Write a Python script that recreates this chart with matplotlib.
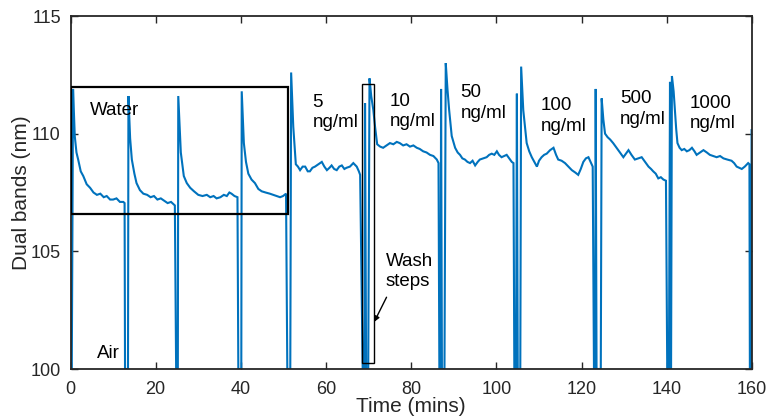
import matplotlib
matplotlib.use("Agg")
import matplotlib.pyplot as plt
from matplotlib.patches import Rectangle

plt.rcParams['font.family'] = ['Liberation Sans', 'DejaVu Sans']

# ---- data ----
time_min = [
    0.3, 0.6, 1.0, 1.4, 1.8, 2.4, 3.0, 3.8, 4.6, 5.4, 6.2, 7.0, 7.8, 8.5, 9.3, 10.0, 10.8, 11.6, 12.4, 12.7,
    12.8, 13.5, 13.6,
    14.0, 14.4, 15.0, 15.5, 16.3, 17.1, 18.0, 18.8, 19.6, 20.4, 21.2, 22.0, 22.8, 23.6, 24.5,
    24.8, 25.2, 25.3,
    25.9, 26.6, 27.3, 28.1, 29.0, 30.0, 31.0, 32.0, 32.8, 33.6, 34.3, 35.2, 36.0, 36.7, 37.3, 37.8, 38.5, 39.2,
    39.4, 40.1, 40.2,
    40.7, 41.2, 41.75, 42.5, 43.3, 44.1, 44.9, 45.8, 46.8, 47.6, 48.4, 49.2, 49.9, 50.6,
    50.9, 51.6, 51.8,
    52.3, 52.9, 53.4, 53.9, 54.5, 55.1, 55.7, 56.2, 56.8, 57.4, 58.2, 59.0, 59.6, 60.2, 60.8, 61.3, 61.9, 62.5,
    63.1, 63.7, 64.3, 64.8, 65.6, 66.4, 67.2, 67.7, 68.0,
    68.6, 69.0, 69.15, 69.4, 69.9, 70.2,
    70.6, 71.1, 71.5, 72.0, 72.7, 73.4, 74.2, 75.0, 75.8, 76.6, 77.3, 78.1, 78.9, 79.7, 80.5, 81.3, 82.0, 82.8,
    83.6, 84.4, 85.2, 86.0, 86.4,
    86.6, 86.9, 87.0, 87.2, 87.8, 88.1,
    88.5, 88.9, 89.5, 90.3, 90.9, 91.45, 92.0, 92.6, 93.2, 93.8, 94.4, 95.0, 95.6, 96.1, 96.9, 97.7, 98.3, 98.9,
    99.5, 100.1, 100.6, 101.2, 101.8, 102.4, 103.0, 103.6, 104.0,
    104.2, 104.6, 104.8, 105.0, 105.6, 105.8,
    106.3, 107.1, 107.7, 108.3, 108.9, 109.5, 110.0, 110.6, 111.2, 111.8, 112.6, 113.4, 114.0, 114.5, 115.3,
    116.1, 116.9, 117.7, 118.5, 119.2, 119.8, 120.4, 121.0, 121.6, 122.1, 122.6,
    122.9, 123.2, 123.3, 123.5, 124.5, 124.7,
    125.1, 125.5, 126.1, 126.7, 127.4, 128.2, 129.0, 129.8, 130.4, 131.0, 131.7, 132.5, 133.3, 134.1, 134.9,
    135.7, 136.3, 136.8, 137.4, 138.0, 138.6, 139.2, 139.8,
    140.1, 140.5, 140.75, 140.9, 141.0, 141.2,
    141.6, 141.9, 142.2, 142.5, 143.0, 143.5, 144.1, 144.7, 145.3, 145.9, 146.5, 147.0, 147.8, 148.6, 149.4,
    150.1, 150.9, 151.7, 152.5, 153.3, 154.2, 155.2, 155.8, 156.4, 157.0, 157.6, 158.3, 159.1, 159.4,
    159.5, 159.8, 159.9,
]
band_nm = [
    100.0, 111.9, 109.9, 109.2, 108.9, 108.4, 108.2, 107.85, 107.7, 107.5, 107.4, 107.45, 107.3, 107.35, 107.2, 107.2, 107.25, 107.1, 107.1, 107.05,
    100.0, 100.0, 111.6,
    109.8, 108.9, 108.3, 107.9, 107.6, 107.45, 107.4, 107.3, 107.35, 107.2, 107.25, 107.15, 107.05, 107.1, 106.95,
    100.0, 100.0, 111.6,
    109.2, 108.2, 107.9, 107.7, 107.55, 107.4, 107.35, 107.4, 107.3, 107.35, 107.25, 107.3, 107.4, 107.35, 107.5, 107.45, 107.35, 107.3,
    100.0, 100.0, 111.8,
    109.6, 108.8, 108.3, 108.05, 107.9, 107.65, 107.55, 107.5, 107.45, 107.4, 107.35, 107.3, 107.35, 107.45,
    100.0, 100.0, 112.6,
    110.3, 108.7, 108.6, 108.45, 108.6, 108.6, 108.4, 108.4, 108.55, 108.6, 108.7, 108.8, 108.6, 108.45, 108.55, 108.65, 108.5, 108.45,
    108.6, 108.65, 108.5, 108.55, 108.6, 108.75, 108.6, 108.4, 108.25,
    100.0, 100.0, 111.3, 100.0, 100.0, 112.35,
    111.6, 111.0, 110.3, 109.55, 109.45, 109.4, 109.5, 109.6, 109.55, 109.65, 109.6, 109.5, 109.55, 109.45, 109.5, 109.4, 109.35, 109.25,
    109.2, 109.1, 109.05, 108.9, 108.75,
    100.0, 100.0, 111.9, 100.0, 100.0, 113.0,
    111.9, 111.0, 109.9, 109.4, 109.2, 109.1, 108.95, 108.9, 108.8, 108.75, 108.85, 108.65, 108.8, 108.9, 108.95, 109.0, 109.1, 109.15,
    109.1, 109.25, 109.1, 109.0, 109.05, 109.1, 108.95, 108.8, 108.75,
    100.0, 100.0, 111.7, 100.0, 100.0, 112.85,
    111.0, 109.6, 109.25, 109.0, 108.8, 108.6, 108.85, 109.0, 109.1, 109.15, 109.3, 109.4, 109.1, 108.9, 108.85,
    108.75, 108.6, 108.45, 108.35, 108.25, 108.5, 108.8, 108.95, 109.0, 108.8, 108.6,
    100.0, 100.0, 111.9, 100.0, 100.0, 111.5,
    110.6, 110.0, 109.85, 109.75, 109.6, 109.4, 109.2, 109.0, 109.15, 109.3, 109.1, 108.9, 108.95, 109.0, 108.8,
    108.6, 108.5, 108.4, 108.3, 108.1, 108.15, 108.05, 108.0,
    100.0, 100.0, 112.2, 100.0, 100.0, 112.45,
    111.8, 111.0, 110.2, 109.6, 109.4, 109.3, 109.35, 109.25, 109.3, 109.4, 109.25, 109.1, 109.2, 109.3, 109.2,
    109.1, 109.05, 109.0, 109.05, 108.95, 108.9, 108.85, 108.75, 108.6, 108.55, 108.5, 108.6, 108.75, 108.7,
    100.0, 100.0, 110.15,
]

x_ticks = [0, 20, 40, 60, 80, 100, 120, 140, 160]
y_ticks = [100, 105, 110, 115]

conc_labels = ["5\nng/ml", "10\nng/ml", "50\nng/ml", "100\nng/ml", "500\nng/ml", "1000\nng/ml"]
conc_x = [56.8, 75.0, 91.6, 110.4, 129.0, 145.3]
conc_y = [110.9, 110.95, 111.3, 110.75, 111.05, 110.85]

water_box = (0.1, 106.6, 51.0, 112.0)   # x0, y0, x1, y1
wash_box = (68.5, 100.27, 71.3, 112.1)

# ---- figure ----
fig = plt.figure(figsize=(7.71, 4.18), dpi=100)
ax = fig.add_axes([70.5 / 771, 49 / 418, 681.5 / 771, 353 / 418])

ax.plot(time_min, band_nm, color='#0072BD', lw=1.5, solid_joinstyle='miter')

ax.set_xlim(0, 160)
ax.set_ylim(100, 115)
ax.set_xticks(x_ticks)
ax.set_yticks(y_ticks)
ax.tick_params(direction='in', length=5, width=1.0, top=True, right=True,
               labelsize=13, colors='#262626', pad=7)
ax.tick_params(axis='x', pad=9)
for s in ax.spines.values():
    s.set_linewidth(1.3)
    s.set_color('#262626')

ax.set_xlabel('Time (mins)', fontsize=15, color='#262626', labelpad=-1)
ax.set_ylabel('Dual bands (nm)', fontsize=15, color='#262626', labelpad=0)

ax.add_patch(Rectangle((water_box[0], water_box[1]), water_box[2] - water_box[0],
                       water_box[3] - water_box[1], fill=False, ec='black', lw=1.6, zorder=3))
ax.add_patch(Rectangle((wash_box[0], wash_box[1]), wash_box[2] - wash_box[0],
                       wash_box[3] - wash_box[1], fill=False, ec='black', lw=1.0, zorder=3))

ax.text(10.3, 111.0, 'Water', fontsize=13.5, ha='center', va='center')
ax.text(8.8, 100.65, 'Air', fontsize=13.5, ha='center', va='center')
for lab, x, y in zip(conc_labels, conc_x, conc_y):
    ax.text(x, y, lab, fontsize=13.5, ha='left', va='center', linespacing=1.25)

ax.text(74.0, 104.15, 'Wash\nsteps', fontsize=13.5, ha='left', va='center', linespacing=1.25)
ax.annotate('', xy=(71.3, 102.0), xytext=(74.2, 103.05),
            arrowprops=dict(arrowstyle='-|>', color='black', lw=1.0,
                            mutation_scale=8, shrinkA=0, shrinkB=0))

fig.savefig('out.png', dpi=100)
